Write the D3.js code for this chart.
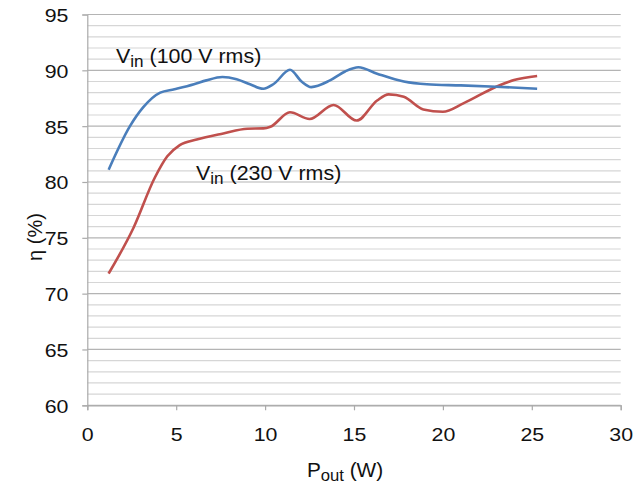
<!DOCTYPE html>
<html>
<head>
<meta charset="utf-8">
<script src="https://cdn.jsdelivr.net/npm/d3@7"></script>
<style>
  html, body { margin: 0; padding: 0; background: #fff; }
  svg { display: block; }
  text { font-family: "Liberation Sans", Arial, Helvetica, sans-serif; fill: #111; }
</style>
</head>
<body>
<svg id="chart" width="639" height="487"></svg>
<script>
// ---- Data ----
const xTicks = [0, 5, 10, 15, 20, 25, 30];
const yTicks = [60, 65, 70, 75, 80, 85, 90, 95];
const yMinor = d3.range(60, 96, 1);

const pout100 = [1.2, 2.4, 3.15, 4.1, 4.9, 6.0, 6.7, 7.6, 8.4, 9.15, 9.9, 10.5, 11.4, 12.05, 12.6, 13.65, 14.5, 15.25, 16.3, 17.8, 19.1, 21.0, 23.0, 25.3];
const eff100  = [81.1, 85.0, 86.7, 88.0, 88.3, 88.75, 89.1, 89.4, 89.2, 88.75, 88.35, 88.8, 90.05, 89.0, 88.5, 89.1, 89.9, 90.27, 89.7, 89.0, 88.75, 88.65, 88.53, 88.35];

const pout230 = [1.2, 2.6, 3.8, 4.5, 5.2, 6.15, 7.65, 9.0, 9.9, 10.3, 11.4, 12.5, 13.85, 15.15, 16.3, 16.95, 17.8, 18.9, 20.0, 21.15, 23.0, 24.0, 25.3];
const eff230  = [71.8, 75.9, 80.4, 82.3, 83.3, 83.8, 84.35, 84.77, 84.8, 84.95, 86.24, 85.64, 86.9, 85.5, 87.3, 87.85, 87.63, 86.5, 86.29, 87.04, 88.53, 89.13, 89.49];

const seriesNames = ["100 V rms", "230 V rms"];

// ---- Layout ----
const svg = d3.select("#chart");
const mLeft = 87.3, mRight = 620.7, mTop = 14.5, mBottom = 405.3;
const x = d3.scaleLinear().domain([0, 30]).range([mLeft, mRight]);
const y = d3.scaleLinear().domain([60, 95]).range([mBottom, mTop]);

// minor gridlines
svg.append("g")
  .selectAll("line")
  .data(yMinor.filter(v => v % 5 !== 0))
  .join("line")
  .attr("x1", mLeft).attr("x2", mRight)
  .attr("y1", d => y(d)).attr("y2", d => y(d))
  .attr("stroke", "#d6d6d6").attr("stroke-width", 1.2);

// major gridlines
svg.append("g")
  .selectAll("line")
  .data(yTicks)
  .join("line")
  .attr("x1", mLeft).attr("x2", mRight)
  .attr("y1", d => y(d)).attr("y2", d => y(d))
  .attr("stroke", "#b4b4b4").attr("stroke-width", 1.2);

// y axis
const yAxis = svg.append("g")
  .attr("transform", `translate(${mLeft},0)`)
  .call(d3.axisLeft(y).tickValues(yTicks).tickSize(5).tickPadding(7).tickFormat(d3.format("d")));
yAxis.select(".domain").attr("stroke", "#aaa").attr("stroke-width", 1.2);
yAxis.selectAll(".tick line").attr("stroke", "#aaa").attr("stroke-width", 1.2);
yAxis.selectAll(".tick text")
  .attr("font-size", 17.5)
  .attr("dy", "0.4em")
  .attr("transform", "scale(1.22,1)")
  .attr("x", -15.5)
  .style("font-family", "'Liberation Sans', Arial, sans-serif")
  .attr("fill", "#111");

// x axis
const xAxis = svg.append("g")
  .attr("transform", `translate(0,${mBottom})`)
  .call(d3.axisBottom(x).tickValues(xTicks).tickSize(5).tickPadding(18).tickFormat(d3.format("d")));
xAxis.select(".domain").attr("stroke", "#aaa").attr("stroke-width", 1.2);
xAxis.selectAll(".tick line").attr("stroke", "#aaa").attr("stroke-width", 1.2);
xAxis.selectAll(".tick text")
  .attr("font-size", 17.5)
  .attr("transform", "scale(1.22,1)")
  .style("font-family", "'Liberation Sans', Arial, sans-serif")
  .attr("fill", "#111");

// lines
const line = d3.line()
  .x(d => x(d[0])).y(d => y(d[1]))
  .curve(d3.curveMonotoneX);

const s100 = pout100.map((p, i) => [p, eff100[i]]);
const s230 = pout230.map((p, i) => [p, eff230[i]]);

svg.append("path").datum(s230)
  .attr("d", line).attr("fill", "none")
  .attr("stroke", "#c0504d").attr("stroke-width", 2.6);
svg.append("path").datum(s100)
  .attr("d", line).attr("fill", "none")
  .attr("stroke", "#4a7ebb").attr("stroke-width", 2.6);

// annotations
function vinLabel(px, py, name) {
  const g = svg.append("g").attr("transform", `translate(${px},${py}) scale(1.07,1)`);
  const t = g.append("text").attr("x", 0).attr("y", 0).attr("font-size", 20);
  t.append("tspan").text("V");
  t.append("tspan").attr("font-size", 16).attr("dy", 4).text("in");
  t.append("tspan").attr("dy", -4).text(" (" + name + ")");
}
vinLabel(116, 63, seriesNames[0]);
vinLabel(196, 180, seriesNames[1]);

// x axis title
const xg = svg.append("g").attr("transform", "translate(345,477) scale(1.04,1)");
const xt = xg.append("text").attr("x", 0).attr("y", 0).attr("font-size", 20).attr("text-anchor", "middle");
xt.append("tspan").text("P");
xt.append("tspan").attr("font-size", 16).attr("dy", 4).text("out");
xt.append("tspan").attr("dy", -4).text(" (W)");

// y axis title
svg.append("text")
  .attr("transform", "translate(42,237) rotate(-90)")
  .attr("text-anchor", "middle")
  .attr("font-size", 20)
  .text("η (%)");
</script>
</body>
</html>
